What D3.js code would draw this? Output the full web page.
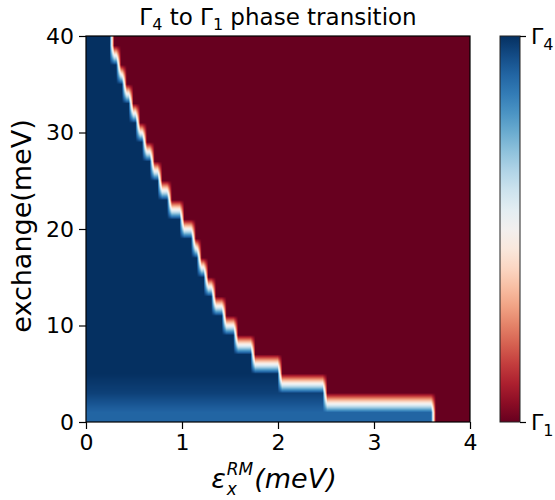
<!DOCTYPE html>
<html>
<head>
<meta charset="utf-8">
<script src="https://cdn.jsdelivr.net/npm/d3@7"></script>
<style>
  body { margin: 0; background: #fff; }
  svg { font-family: "DejaVu Sans", sans-serif; }
</style>
</head>
<body>
<svg id="chart" width="555" height="500"></svg>
<script>
// Exchange grid: centre of each computed row (meV)
const exchangeRows = [1, 3, 5, 7, 9, 11, 13, 15, 17, 19, 21, 23, 25, 27, 29, 31, 33, 35, 37, 39];
// Critical ε_x^RM (meV) of each row: Γ4 below it, Γ1 above it
const criticalEps = [3.62, 2.49, 2.02, 1.74, 1.56, 1.44, 1.33, 1.25, 1.18, 1.12,
                     1.00, 0.87, 0.77, 0.69, 0.61, 0.54, 0.47, 0.40, 0.34, 0.27];
// Γ4 order parameter reached on the low-ε side of each row
const gamma4Level = [0.90, 0.97, 1, 1, 1, 1, 1, 1, 1, 1,
                     1, 1, 1, 1, 1, 1, 1, 1, 1, 1];

const xTicks = [0, 1, 2, 3, 4];
const yTicks = [0, 10, 20, 30, 40];
const barTicks = [0, 1];
const barLabels = [["Γ", "1"], ["Γ", "4"]];

const plot = { left: 86, right: 470, top: 36, bottom: 422 };
const bar = { left: 500, right: 520 };

const svg = d3.select("#chart");

const x = d3.scaleLinear().domain([0, 4]).range([plot.left, plot.right]);
const y = d3.scaleLinear().domain([0, 40]).range([plot.bottom, plot.top]);
const color = d3.scaleSequential(d3.interpolateRdBu).domain([0, 1]);

// Order parameter of one row at a given ε, with a narrow ramp across the critical point
const rampWidth = 0.05;
function rowValue(r, eps) {
  const s = Math.max(0, Math.min(1, 0.5 + (criticalEps[r] - eps) / rampWidth));
  return gamma4Level[r] * s;
}

// Bilinear field: linear in exchange between row centres
function field(eps, ex) {
  const n = exchangeRows.length;
  if (ex <= exchangeRows[0]) return rowValue(0, eps);
  if (ex >= exchangeRows[n - 1]) return rowValue(n - 1, eps);
  const i = d3.bisectRight(exchangeRows, ex) - 1;
  const t = (ex - exchangeRows[i]) / (exchangeRows[i + 1] - exchangeRows[i]);
  return rowValue(i, eps) * (1 - t) + rowValue(i + 1, eps) * t;
}

// Heat map raster
const W = plot.right - plot.left, H = plot.bottom - plot.top;
const canvas = document.createElement("canvas");
canvas.width = W; canvas.height = H;
const ctx = canvas.getContext("2d");
const img = ctx.createImageData(W, H);
for (let py = 0; py < H; py++) {
  const ex = y.invert(plot.top + py + 0.5);
  for (let px = 0; px < W; px++) {
    const eps = x.invert(plot.left + px + 0.5);
    const c = d3.rgb(color(field(eps, ex)));
    const k = (py * W + px) * 4;
    img.data[k] = c.r; img.data[k + 1] = c.g; img.data[k + 2] = c.b; img.data[k + 3] = 255;
  }
}
ctx.putImageData(img, 0, 0);
svg.append("image")
  .attr("x", plot.left).attr("y", plot.top)
  .attr("width", W).attr("height", H)
  .attr("href", canvas.toDataURL());

// Frame
svg.append("rect")
  .attr("x", plot.left).attr("y", plot.top)
  .attr("width", W).attr("height", H)
  .attr("fill", "none").attr("stroke", "#000").attr("stroke-width", 1.2);

// Axes
const xAxis = svg.append("g")
  .attr("transform", `translate(0,${plot.bottom})`)
  .call(d3.axisBottom(x).tickValues(xTicks).tickFormat(d3.format("d"))
        .tickSize(7).tickSizeOuter(0).tickPadding(5));
const yAxis = svg.append("g")
  .attr("transform", `translate(${plot.left},0)`)
  .call(d3.axisLeft(y).tickValues(yTicks).tickFormat(d3.format("d"))
        .tickSize(7).tickSizeOuter(0).tickPadding(5));
[xAxis, yAxis].forEach(g => {
  g.select(".domain").remove();
  g.selectAll(".tick line").attr("stroke", "#000").attr("stroke-width", 1.2);
  g.selectAll(".tick text").attr("fill", "#000")
    .style("font-family", "DejaVu Sans").style("font-size", "22px");
});

// Title
const title = svg.append("text")
  .attr("x", (plot.left + plot.right) / 2).attr("y", 25)
  .attr("text-anchor", "middle").style("font-size", "23px");
title.append("tspan").text("Γ");
title.append("tspan").attr("dy", 5).style("font-size", "16px").text("4");
title.append("tspan").attr("dy", -5).text(" to Γ");
title.append("tspan").attr("dy", 5).style("font-size", "16px").text("1");
title.append("tspan").attr("dy", -5).text(" phase transition");

// Y label
svg.append("text")
  .attr("transform", `translate(31,${(plot.top + plot.bottom) / 2 - 3}) rotate(-90)`)
  .attr("text-anchor", "middle").style("font-size", "27px")
  .text("exchange(meV)");

// X label: ε with stacked sub/superscripts, all italic, in one text element
const base = 488, fs = 27, sfs = 17;
const xl = svg.append("text")
  .attr("y", base).style("font-style", "italic").style("font-size", fs + "px");
xl.append("tspan").text("ε");
const subT = xl.append("tspan").attr("dx", 1).attr("dy", 7).style("font-size", sfs + "px").text("x");
const subW = subT.node().getComputedTextLength();
xl.append("tspan").attr("dx", -subW).attr("dy", -20).style("font-size", sfs + "px").text("RM");
xl.append("tspan").attr("dx", 1).attr("dy", 13).text("(meV)");
const xlW = xl.node().getComputedTextLength();
xl.attr("x", (plot.left + plot.right) / 2 - xlW / 2);

// Colour bar
const defs = svg.append("defs");
const grad = defs.append("linearGradient").attr("id", "cbar")
  .attr("x1", 0).attr("y1", 1).attr("x2", 0).attr("y2", 0);
d3.range(0, 1.0001, 0.05).forEach(v => {
  grad.append("stop").attr("offset", v).attr("stop-color", color(v));
});
svg.append("rect")
  .attr("x", bar.left).attr("y", plot.top)
  .attr("width", bar.right - bar.left).attr("height", H)
  .attr("fill", "url(#cbar)").attr("stroke", "#222").attr("stroke-width", 1);

const cbScale = y.copy().domain([0, 1]);
const cb = svg.append("g")
  .attr("transform", `translate(${bar.right},0)`)
  .call(d3.axisRight(cbScale).tickValues(barTicks).tickFormat(() => "")
        .tickSize(6).tickSizeOuter(0));
cb.select(".domain").remove();
cb.selectAll(".tick line").attr("stroke", "#000").attr("stroke-width", 1.2);
barTicks.forEach((v, i) => {
  const t = svg.append("text")
    .attr("x", bar.right + 11).attr("y", cbScale(v) + 8)
    .style("font-size", "22px");
  t.append("tspan").text(barLabels[i][0]);
  t.append("tspan").attr("dy", 6).style("font-size", "16px").text(barLabels[i][1]);
});
</script>
</body>
</html>
